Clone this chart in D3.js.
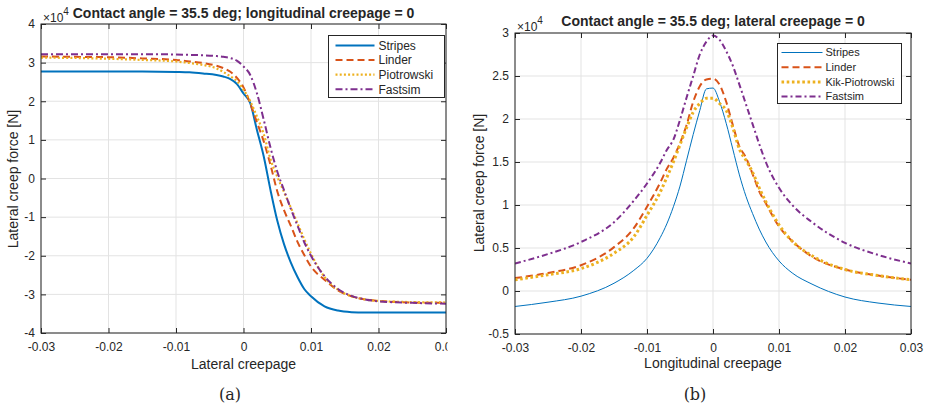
<!DOCTYPE html>
<html>
<head>
<meta charset="utf-8">
<script src="https://cdn.jsdelivr.net/npm/d3@7"></script>
<style>
  body { margin: 0; background: #fff; }
  svg { display: block; }
  text { font-family: "Liberation Sans", Arial, Helvetica, sans-serif; fill: #262626; }
</style>
</head>
<body>
<svg id="chart" width="925" height="411"></svg>
<script>
// ---- Data (creep forces in units of 1e4 N) ----
const xTicks = [-0.03, -0.02, -0.01, 0, 0.01, 0.02, 0.03];
const xTickLabels = ["-0.03", "-0.02", "-0.01", "0", "0.01", "0.02", "0.03"];
const yTicksA = [-4, -3, -2, -1, 0, 1, 2, 3, 4];
const yTickLabelsA = ["-4", "-3", "-2", "-1", "0", "1", "2", "3", "4"];
const yTicksB = [-0.5, 0, 0.5, 1, 1.5, 2, 2.5, 3];
const yTickLabelsB = ["-0.5", "0", "0.5", "1", "1.5", "2", "2.5", "3"];

// (a) lateral creepage sweep, longitudinal creepage = 0
const creepLat = [-0.03, -0.025, -0.02, -0.015, -0.01, -0.008, -0.006, -0.004, -0.003, -0.002, -0.001,
  0, 0.001, 0.002, 0.003, 0.004, 0.005, 0.006, 0.007, 0.008, 0.009, 0.010, 0.012, 0.014, 0.016,
  0.018, 0.020, 0.025, 0.030];
const stripesLat = [2.77, 2.77, 2.77, 2.77, 2.76, 2.75, 2.72, 2.68, 2.64, 2.58, 2.45,
  2.2, 1.95, 1.25, 0.57, -0.3, -1.09, -1.7, -2.17, -2.55, -2.86, -3.05, -3.31, -3.42, -3.46,
  -3.47, -3.47, -3.47, -3.47];
const linderLat = [3.16, 3.15, 3.14, 3.11, 3.07, 3.03, 2.99, 2.92, 2.86, 2.77, 2.61,
  2.36, 1.94, 1.45, 0.96, 0.35, -0.33, -0.82, -1.22, -1.64, -1.98, -2.28, -2.62, -2.9, -3.05,
  -3.13, -3.17, -3.21, -3.22];
const piotrowskiLat = [3.13, 3.12, 3.10, 3.07, 3.03, 2.99, 2.94, 2.85, 2.76, 2.65, 2.53,
  2.3, 2.0, 1.6, 1.15, 0.5, 0.05, -0.35, -0.75, -1.16, -1.57, -1.95, -2.55, -2.88, -3.05,
  -3.13, -3.17, -3.2, -3.21];
const fastsimLat = [3.22, 3.22, 3.22, 3.22, 3.21, 3.20, 3.19, 3.17, 3.15, 3.12, 3.05,
  2.9, 2.68, 2.2, 1.52, 0.8, 0.18, -0.3, -0.78, -1.22, -1.65, -2.0, -2.53, -2.86, -3.04,
  -3.13, -3.18, -3.22, -3.24];

// (b) longitudinal creepage sweep, lateral creepage = 0
const creepLon = [-0.03, -0.025, -0.02, -0.015, -0.012, -0.01, -0.008, -0.007, -0.006, -0.005, -0.004,
  -0.003, -0.002, -0.001, 0, 0.001, 0.002, 0.003, 0.004, 0.005, 0.006, 0.007, 0.008, 0.01, 0.012,
  0.015, 0.02, 0.025, 0.03];
const stripesLon = [-0.18, -0.13, -0.06, 0.09, 0.24, 0.38, 0.62, 0.78, 0.98, 1.22, 1.52,
  1.82, 2.1, 2.35, 2.36, 2.2, 1.95, 1.65, 1.35, 1.1, 0.9, 0.72, 0.57, 0.35, 0.21,
  0.08, -0.07, -0.14, -0.18];
const linderLon = [0.15, 0.21, 0.30, 0.51, 0.73, 0.98, 1.26, 1.42, 1.55, 1.72, 1.93,
  2.2, 2.38, 2.46, 2.47, 2.4, 2.2, 1.93, 1.68, 1.55, 1.36, 1.16, 1.02, 0.75, 0.58,
  0.40, 0.25, 0.18, 0.13];
const kikPiotrowskiLon = [0.13, 0.19, 0.26, 0.44, 0.63, 0.88, 1.15, 1.32, 1.5, 1.7, 1.9,
  2.08, 2.18, 2.24, 2.24, 2.18, 2.1, 1.9, 1.65, 1.52, 1.38, 1.2, 1.04, 0.77, 0.58,
  0.41, 0.25, 0.18, 0.13];
const fastsimLon = [0.32, 0.43, 0.57, 0.8, 1.05, 1.25, 1.49, 1.64, 1.76, 1.99, 2.25,
  2.5, 2.75, 2.9, 2.97, 2.92, 2.79, 2.62, 2.4, 2.17, 1.94, 1.71, 1.5, 1.2, 1.0,
  0.8, 0.56, 0.42, 0.32];

const colors = { blue: "#0072BD", orange: "#D95319", yellow: "#EDB120", purple: "#7E2F8E" };
const axisColor = "#262626";
const gridColor = "#e3e3e3";

const svg = d3.select("#chart");
const defs = svg.append("defs");

function drawPanel(cfg) {
  const root = svg.append("g");
  if (cfg.clipWidth) {
    const cid = cfg.id + "-panel";
    defs.append("clipPath").attr("id", cid).append("rect")
      .attr("x", 0).attr("y", 0).attr("width", cfg.clipWidth).attr("height", 411);
    root.attr("clip-path", `url(#${cid})`);
  }
  const x = d3.scaleLinear().domain([-0.03, 0.03]).range(cfg.xRange);
  const y = d3.scaleLinear().domain(cfg.yDomain).range(cfg.yRange);
  const [x0, x1] = cfg.xRange;
  const [y0, y1] = cfg.yRange; // y0 bottom, y1 top

  // grid
  root.append("g").selectAll("line").data(xTicks).join("line")
    .attr("x1", d => x(d)).attr("x2", d => x(d)).attr("y1", y0).attr("y2", y1)
    .attr("stroke", gridColor).attr("stroke-width", 1);
  root.append("g").selectAll("line").data(cfg.yTicks).join("line")
    .attr("x1", x0).attr("x2", x1).attr("y1", d => y(d)).attr("y2", d => y(d))
    .attr("stroke", gridColor).attr("stroke-width", 1);

  // plotted curves
  const pid = cfg.id + "-plot";
  defs.append("clipPath").attr("id", pid).append("rect")
    .attr("x", x0).attr("y", y1).attr("width", x1 - x0).attr("height", y0 - y1);
  const plot = root.append("g").attr("clip-path", `url(#${pid})`);
  const line = d3.line().x(d => x(d[0])).y(d => y(d[1])).curve(d3.curveMonotoneX);
  cfg.series.forEach(s => {
    plot.append("path")
      .datum(cfg.xs.map((v, i) => [v, s.values[i]]))
      .attr("fill", "none").attr("stroke", s.color).attr("stroke-width", s.width)
      .attr("stroke-dasharray", s.dash || null)
      .attr("stroke-linejoin", "round")
      .attr("d", line);
  });

  // axes (inward ticks on all four sides)
  const tickStyle = sel => {
    sel.select(".domain").remove();
    sel.selectAll(".tick line").attr("stroke", axisColor);
    sel.selectAll(".tick text").style("font-size", "12px").attr("fill", axisColor);
  };
  root.append("g").attr("transform", `translate(0,${y0})`)
    .call(d3.axisBottom(x).tickValues(xTicks).tickFormat((d, i) => xTickLabels[i])
      .tickSizeInner(-5).tickSizeOuter(0).tickPadding(9)).call(tickStyle);
  root.append("g").attr("transform", `translate(0,${y1})`)
    .call(d3.axisTop(x).tickValues(xTicks).tickFormat("")
      .tickSizeInner(-5).tickSizeOuter(0)).call(tickStyle);
  root.append("g").attr("transform", `translate(${x0},0)`)
    .call(d3.axisLeft(y).tickValues(cfg.yTicks).tickFormat((d, i) => cfg.yTickLabels[i])
      .tickSizeInner(-5).tickSizeOuter(0).tickPadding(6)).call(tickStyle);
  root.append("g").attr("transform", `translate(${x1},0)`)
    .call(d3.axisRight(y).tickValues(cfg.yTicks).tickFormat("")
      .tickSizeInner(-5).tickSizeOuter(0)).call(tickStyle);
  root.selectAll("g").attr("font-family", null);

  root.append("rect").attr("x", x0).attr("y", y1).attr("width", x1 - x0).attr("height", y0 - y1)
    .attr("fill", "none").attr("stroke", axisColor).attr("stroke-width", 1);

  // exponent label
  const ex = root.append("text").attr("x", x0 + 2).attr("y", y1 - 2)
    .style("font-size", "12px").attr("fill", "#4a4a4a");
  ex.append("tspan").text("×10");
  ex.append("tspan").attr("dy", -7).style("font-size", "10px").text("4");

  // title
  root.append("text").attr("x", (x0 + x1) / 2).attr("y", cfg.titleY)
    .attr("text-anchor", "middle").style("font-size", "14px").style("font-weight", "bold")
    .attr("fill", "#000").text(cfg.title);

  // axis labels
  root.append("text").attr("x", (x0 + x1) / 2).attr("y", cfg.xLabelY)
    .attr("text-anchor", "middle").style("font-size", "14px").text(cfg.xLabel);
  root.append("text")
    .attr("transform", `translate(${cfg.yLabelX},${cfg.yLabelCY}) rotate(-90)`)
    .attr("text-anchor", "middle").style("font-size", "14px").text("Lateral creep force [N]");

  // legend
  const L = cfg.legend;
  const lg = root.append("g");
  lg.append("rect").attr("x", L.x).attr("y", L.y).attr("width", L.w).attr("height", L.h)
    .attr("fill", "#fff").attr("stroke", axisColor).attr("stroke-width", 1);
  cfg.series.forEach((s, i) => {
    const cy = L.y + L.first + i * L.step;
    lg.append("line").attr("x1", L.x + L.lx0).attr("x2", L.x + L.lx1).attr("y1", cy).attr("y2", cy)
      .attr("stroke", s.color).attr("stroke-width", s.width).attr("stroke-dasharray", s.dash || null);
    lg.append("text").attr("x", L.x + L.tx).attr("y", cy).attr("dy", "0.35em")
      .style("font-size", L.font + "px").attr("fill", "#000").text(s.name);
  });

  // caption
  svg.append("text").attr("x", cfg.captionX).attr("y", 400).attr("text-anchor", "middle")
    .style("font-family", "'DejaVu Serif', 'Liberation Serif', serif").style("font-size", "16px")
    .attr("fill", "#000").text(cfg.caption);
}

drawPanel({
  id: "a",
  clipWidth: 447.5,
  xRange: [41, 446], yDomain: [-4, 4], yRange: [333, 24],
  yTicks: yTicksA, yTickLabels: yTickLabelsA,
  xs: creepLat,
  series: [
    { name: "Stripes", values: stripesLat, color: colors.blue, width: 2 },
    { name: "Linder", values: linderLat, color: colors.orange, width: 2, dash: "7 4" },
    { name: "Piotrowski", values: piotrowskiLat, color: colors.yellow, width: 2.2, dash: "2 2.2" },
    { name: "Fastsim", values: fastsimLat, color: colors.purple, width: 2, dash: "7 3 2 3" }
  ],
  title: "Contact angle = 35.5 deg; longitudinal creepage = 0", titleY: 17.5,
  xLabel: "Lateral creepage", xLabelY: 369,
  yLabelX: 18, yLabelCY: 179,
  legend: { x: 328.5, y: 35.5, w: 116, h: 62, first: 10, step: 14.6, lx0: 7, lx1: 46, tx: 50, font: 12 },
  caption: "(a)", captionX: 230
});

drawPanel({
  id: "b",
  xRange: [515, 911], yDomain: [-0.5, 3], yRange: [334, 33],
  yTicks: yTicksB, yTickLabels: yTickLabelsB,
  xs: creepLon,
  series: [
    { name: "Stripes", values: stripesLon, color: colors.blue, width: 1 },
    { name: "Linder", values: linderLon, color: colors.orange, width: 2, dash: "7 4" },
    { name: "Kik-Piotrowski", values: kikPiotrowskiLon, color: colors.yellow, width: 3, dash: "2.6 2.6" },
    { name: "Fastsim", values: fastsimLon, color: colors.purple, width: 2, dash: "6 3 2 3" }
  ],
  title: "Contact angle = 35.5 deg; lateral creepage = 0", titleY: 26,
  xLabel: "Longitudinal creepage", xLabelY: 368,
  yLabelX: 484, yLabelCY: 183,
  legend: { x: 777.5, y: 43.5, w: 124, h: 60, first: 9, step: 14.7, lx0: 4, lx1: 45, tx: 48, font: 11 },
  caption: "(b)", captionX: 695
});
</script>
</body>
</html>
